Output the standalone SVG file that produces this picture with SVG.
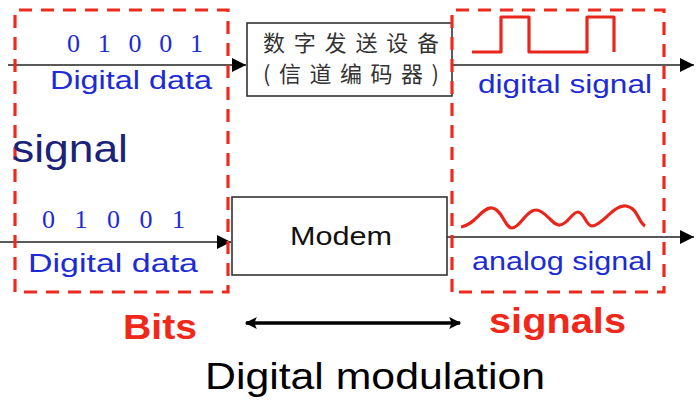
<svg xmlns="http://www.w3.org/2000/svg" width="700" height="416" viewBox="0 0 700 416">
<defs>
<style>
.dash{fill:none;stroke:#ee2a1e;stroke-width:3.2;stroke-dasharray:13 9}
.box{fill:#fff;stroke:#333;stroke-width:1.6}
.ln{fill:none;stroke:#222;stroke-width:1.5}
.bits{font-family:"Liberation Serif",serif;font-size:26px;fill:#1c2bd6}
.lbl{font-family:"Liberation Sans",sans-serif;font-size:26px;fill:#1c2bd6}
.red{font-family:"Liberation Sans",sans-serif;font-weight:bold;font-size:35px;fill:#f0281a}
.cjk{font-family:"Noto Sans CJK SC",sans-serif;font-size:22px;fill:#333}
.wave{fill:none;stroke:#e8261c;stroke-width:3.2;stroke-linejoin:round}
</style>
<marker id="ah" viewBox="0 0 10 10" refX="10" refY="5" markerWidth="22" markerHeight="14" markerUnits="userSpaceOnUse" orient="auto">
<path d="M0,0 L10,5 L0,10 z" fill="#000"/>
</marker>
<marker id="ah2" viewBox="0 0 10 10" refX="9" refY="5" markerWidth="18" markerHeight="12" markerUnits="userSpaceOnUse" orient="auto-start-reverse">
<path d="M0,0 L10,5 L0,10 L2,5 z" fill="#000"/>
</marker>
</defs>
<rect width="700" height="416" fill="#fff"/>

<g id="connectors">
<line class="ln" x1="8" y1="65" x2="246" y2="65" marker-end="url(#ah)"/>
<line class="ln" x1="452" y1="65" x2="694" y2="65" marker-end="url(#ah)"/>
<line class="ln" x1="0" y1="242" x2="231" y2="242" marker-end="url(#ah)"/>
<line class="ln" x1="447" y1="237" x2="694" y2="237" marker-end="url(#ah)"/>
<line x1="246" y1="323" x2="460" y2="323" stroke="#000" stroke-width="3.5" marker-start="url(#ah2)" marker-end="url(#ah2)"/>
</g>

<g id="bits-region">
<path class="dash" d="M15,292 L15,10 L228,10 L228,292 Z"/>
<text class="bits" x="67" y="52" textLength="136">0 1 0 0 1</text>
<text class="lbl" x="50" y="89" textLength="162" lengthAdjust="spacingAndGlyphs">Digital data</text>
<text x="12" y="162" font-family="Liberation Sans,sans-serif" font-size="38" fill="#1a2378" textLength="116" lengthAdjust="spacingAndGlyphs">signal</text>
<text class="bits" x="42" y="228" textLength="143">0 1 0 0 1</text>
<text class="lbl" x="28" y="272" textLength="170" lengthAdjust="spacingAndGlyphs">Digital data</text>
<text class="red" x="123" y="339" textLength="74" lengthAdjust="spacingAndGlyphs">Bits</text>
</g>

<g id="encoder">
<rect class="box" x="247" y="23" width="205" height="73"/>
<text class="cjk" x="263" y="51" textLength="176">数字发送设备</text>
<text class="cjk" x="263" y="82" textLength="176">(信道编码器)</text>
</g>

<g id="modem">
<rect class="box" x="232" y="197" width="215" height="78"/>
<text x="290" y="245" font-family="Liberation Sans,sans-serif" font-size="26" fill="#111" textLength="102" lengthAdjust="spacingAndGlyphs">Modem</text>
</g>

<g id="signals-region">
<path class="dash" d="M452,292 L452,10 L664,10 L664,292 Z"/>
<path class="wave" d="M472,52 L501,52 L501,17 L529,17 L529,52 L587,52 L587,17 L614,17 L614,52"/>
<text class="lbl" x="478" y="93" textLength="174" lengthAdjust="spacingAndGlyphs">digital signal</text>
<path class="wave" d="M461,227 C475,225 482,207 492,208 C502,209 505,228 512,228 C520,228 526,210 536,210 C546,210 552,226 560,225 C568,224 572,212 578,212 C584,212 586,226 592,226 C602,226 614,204 626,206 C638,208 638,222 645,226"/>
<text class="lbl" x="472" y="270" textLength="180" lengthAdjust="spacingAndGlyphs">analog signal</text>
<text class="red" x="489" y="333" textLength="137" lengthAdjust="spacingAndGlyphs">signals</text>
</g>

<text id="title" x="205" y="389" font-family="Liberation Sans,sans-serif" font-size="37" fill="#000" textLength="340" lengthAdjust="spacingAndGlyphs">Digital modulation</text>
</svg>
